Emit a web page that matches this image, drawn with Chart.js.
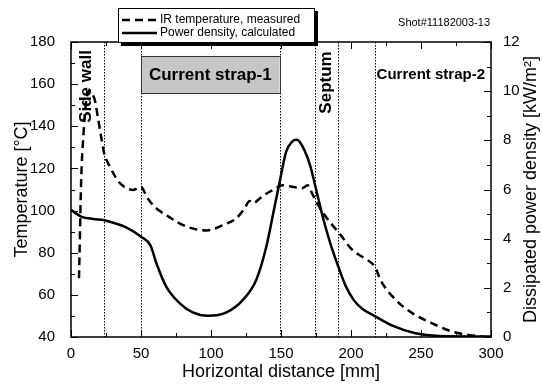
<!DOCTYPE html>
<html>
<head>
<meta charset="utf-8">
<script src="https://cdn.jsdelivr.net/npm/chart.js@4.4.0/dist/chart.umd.min.js"></script>
<style>
  html, body { margin: 0; padding: 0; background: #fff; }
  #wrap { width: 542px; height: 388px; }
</style>
</head>
<body>
<div id="wrap"><canvas id="myChart" width="542" height="388"></canvas></div>
<script>
// IR temperature along the antenna, measured [degC]
const tempX = [5.7, 6.4, 6.9, 7.6, 8.8, 10.5, 13, 15.5, 17, 19.5, 21.9, 23.7, 27.8, 35, 44.5, 50, 54, 58, 63, 70, 76, 83, 90, 97, 103, 109, 118, 124, 127.5, 130, 135, 140, 145, 151, 158, 165, 169, 172.7, 178, 184.6, 191.7, 201, 209.5, 217, 221.5, 232, 244, 258, 272.5, 284, 296];
const tempC = [67.9, 89, 105, 120.8, 135, 150, 157, 155, 152.5, 143, 133.5, 127.2, 120.8, 113, 109.8, 111.3, 106.6, 103, 100, 97, 94.5, 92.3, 91, 90.6, 91.5, 93.2, 96.3, 101, 104.5, 103.5, 105.8, 108.2, 110, 112, 111.3, 110.6, 112, 107.5, 101, 94.8, 89.2, 81.3, 77.4, 73.4, 66.5, 57.6, 51.2, 46.5, 42.5, 41, 40];

// dissipated power density, calculated [kW/m2]
const powerX = [0, 7.6, 15.9, 23.7, 30.2, 39.7, 50, 56.8, 61, 68, 77.7, 87, 98, 111, 122.8, 132.3, 139.5, 145.4, 149, 153.7, 158, 161, 163.2, 170.3, 176.3, 180, 185, 191, 196, 202, 208, 217, 230, 246, 263, 300];
const powerKW = [5.17, 4.89, 4.8, 4.75, 4.65, 4.45, 4.08, 3.72, 3.0, 2.05, 1.37, 1.0, 0.86, 1.0, 1.51, 2.32, 3.67, 5.3, 6.3, 7.54, 7.95, 8.02, 7.95, 7.07, 5.71, 4.85, 3.85, 2.85, 2.1, 1.5, 1.15, 0.85, 0.45, 0.15, 0.04, 0.02];

// structure boundaries [mm]
const boundaryX = [23.5, 50, 149, 174.5, 191, 217];

const FONT = "'Liberation Sans', Arial, sans-serif";

const overlay = {
  id: 'overlay',
  beforeDatasetsDraw(chart) {
    const { ctx, chartArea: a, scales: { x, y } } = chart;
    ctx.save();
    // dotted boundary lines
    ctx.strokeStyle = '#000';
    ctx.lineWidth = 1;
    ctx.setLineDash([1.5, 1.5]);
    boundaryX.forEach(v => {
      const px = Math.round(x.getPixelForValue(v)) + 0.5;
      ctx.beginPath();
      ctx.moveTo(px, a.top);
      ctx.lineTo(px, a.bottom);
      ctx.stroke();
    });
    ctx.setLineDash([]);

    // grey box of current strap 1
    const bx0 = x.getPixelForValue(50), bx1 = x.getPixelForValue(149);
    const by0 = y.getPixelForValue(173.4), by1 = y.getPixelForValue(155.8);
    ctx.fillStyle = '#c6c6c6';
    ctx.fillRect(bx0, by0, bx1 - bx0, by1 - by0);
    ctx.strokeStyle = '#333';
    ctx.strokeRect(Math.round(bx0) + 0.5, Math.round(by0) + 0.5, Math.round(bx1 - bx0), Math.round(by1 - by0));
    ctx.fillStyle = '#000';
    ctx.font = 'bold 17px ' + FONT;
    ctx.textAlign = 'center';
    ctx.textBaseline = 'middle';
    ctx.fillText('Current strap-1', (bx0 + bx1) / 2, (by0 + by1) / 2 + 1);
    ctx.restore();
  },
  afterDatasetsDraw(chart) {
    const { ctx, chartArea: a, scales: { x, y, y1 } } = chart;
    ctx.save();
    ctx.fillStyle = '#000';
    ctx.textAlign = 'center';
    ctx.textBaseline = 'middle';

    // rotated region labels
    ctx.font = 'bold 17px ' + FONT;
    [['Side wall', 11, 158.9], ['Septum', 182.1, 160.8]].forEach(([t, vx, vy]) => {
      ctx.save();
      ctx.translate(x.getPixelForValue(vx), y.getPixelForValue(vy));
      ctx.rotate(-Math.PI / 2);
      ctx.fillText(t, 0, 0);
      ctx.restore();
    });
    ctx.font = 'bold 15px ' + FONT;
    ctx.fillText('Current strap-2', x.getPixelForValue(257), y.getPixelForValue(164.3));

    // frame
    ctx.strokeStyle = '#000';
    ctx.lineWidth = 1.5;
    ctx.strokeRect(a.left, a.top, a.right - a.left, a.bottom - a.top);

    // inward ticks
    ctx.lineWidth = 1;
    const tick = (x0, y0, x1, y1_) => { ctx.beginPath(); ctx.moveTo(x0, y0); ctx.lineTo(x1, y1_); ctx.stroke(); };
    for (let v = 0; v <= 300; v += 25) {
      const px = Math.round(x.getPixelForValue(v)) + 0.5;
      const len = v % 50 === 0 ? 7 : 4;
      tick(px, a.bottom, px, a.bottom - len);
      tick(px, a.top, px, a.top + len);
    }
    for (let v = 40; v <= 180; v += 10) {
      const py = Math.round(y.getPixelForValue(v)) + 0.5;
      const len = v % 20 === 0 ? 7 : 4;
      tick(a.left, py, a.left + len, py);
    }
    for (let v = 0; v <= 12; v += 1) {
      const py = Math.round(y1.getPixelForValue(v)) + 0.5;
      const len = v % 2 === 0 ? 7 : 4;
      tick(a.right, py, a.right - len, py);
    }

    // axis titles
    ctx.font = '18px ' + FONT;
    const midY = (a.top + a.bottom) / 2;
    ctx.fillText('Horizontal distance [mm]', (a.left + a.right) / 2, 372);
    ctx.save();
    ctx.translate(22, midY);
    ctx.rotate(-Math.PI / 2);
    ctx.fillText('Temperature [\u00B0C]', 0, 0);
    ctx.restore();
    ctx.save();
    ctx.translate(531, midY);
    ctx.rotate(-Math.PI / 2);
    ctx.fillText('Dissipated power density [kW/m\u00B2]', 0, 0);
    ctx.restore();

    // shot number
    ctx.font = '11px ' + FONT;
    ctx.textAlign = 'right';
    ctx.fillText('Shot#11182003-13', 490, 23);

    // legend box with shadow
    ctx.fillStyle = '#000';
    ctx.fillRect(121, 11, 197, 35);
    ctx.fillStyle = '#fff';
    ctx.fillRect(118, 8, 197, 35);
    ctx.strokeStyle = '#000';
    ctx.lineWidth = 1;
    ctx.strokeRect(118.5, 8.5, 196, 34);
    ctx.lineWidth = 2.5;
    ctx.setLineDash([8, 5]);
    tick(122, 20, 157, 20);
    ctx.setLineDash([]);
    tick(122, 33, 157, 33);
    ctx.fillStyle = '#000';
    ctx.font = '12px ' + FONT;
    ctx.textAlign = 'left';
    ctx.fillText('IR temperature, measured', 160, 20);
    ctx.fillText('Power density, calculated', 160, 33);
    ctx.restore();
  }
};

new Chart(document.getElementById('myChart'), {
  type: 'line',
  data: {
    datasets: [{
      label: 'IR temperature, measured',
      data: tempX.map((v, i) => ({ x: v, y: tempC[i] })),
      yAxisID: 'y',
      borderColor: '#000',
      borderWidth: 2.5,
      borderDash: [8, 5],
      pointRadius: 0,
      cubicInterpolationMode: 'monotone',
      fill: false
    }, {
      label: 'Power density, calculated',
      data: powerX.map((v, i) => ({ x: v, y: powerKW[i] })),
      yAxisID: 'y1',
      borderColor: '#000',
      borderWidth: 2.5,
      pointRadius: 0,
      cubicInterpolationMode: 'monotone',
      fill: false
    }]
  },
  options: {
    responsive: false,
    animation: false,
    events: [],
    layout: { padding: { left: 0, right: 0, top: 42, bottom: 0 } },
    plugins: { legend: { display: false }, tooltip: { enabled: false } },
    scales: {
      x: {
        type: 'linear', min: 0, max: 300,
        grid: { display: false },
        border: { display: false },
        ticks: { stepSize: 50, padding: 0, color: '#000', font: { family: FONT, size: 15 }, maxRotation: 0 },
        afterFit: s => { s.height = 51; }
      },
      y: {
        position: 'left', min: 40, max: 180,
        grid: { display: false },
        border: { display: false },
        ticks: { stepSize: 20, padding: 8, color: '#000', font: { family: FONT, size: 15 } },
        afterFit: s => { s.width = 71; }
      },
      y1: {
        position: 'right', min: 0, max: 12,
        grid: { display: false },
        border: { display: false },
        ticks: { stepSize: 2, padding: 4, color: '#000', font: { family: FONT, size: 15 } },
        afterFit: s => { s.width = 51; }
      }
    }
  },
  plugins: [overlay]
});
</script>
</body>
</html>
